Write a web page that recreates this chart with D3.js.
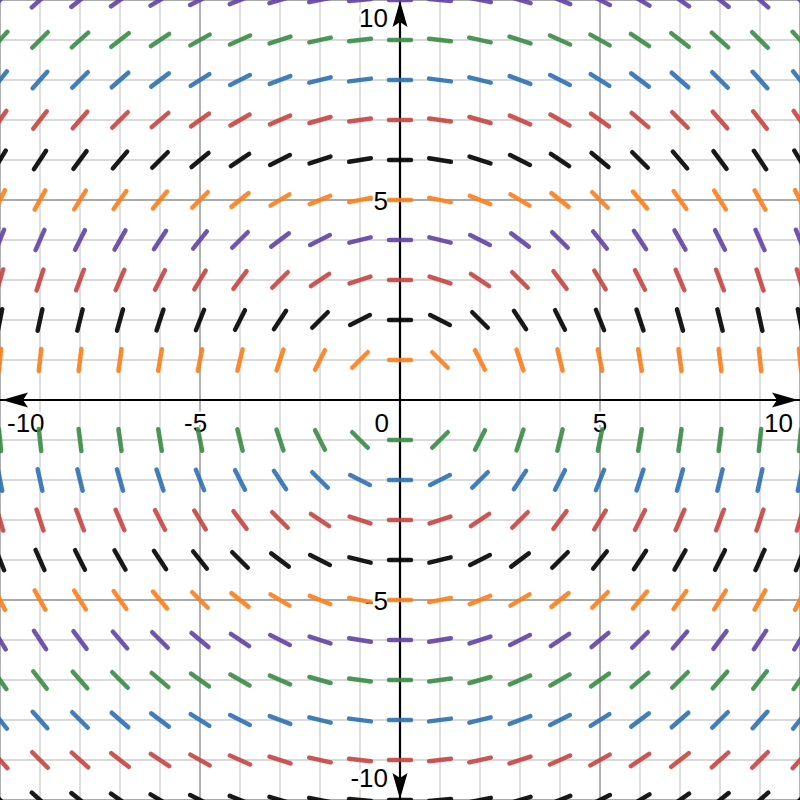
<!DOCTYPE html>
<html>
<head>
<meta charset="utf-8">
<script src="https://cdn.jsdelivr.net/npm/d3@7"></script>
<style>
  html, body { margin: 0; padding: 0; background: #fff; }
  svg { display: block; }
</style>
</head>
<body>
<svg id="chart" width="800" height="800"></svg>
<script>
// ---- data ----
const xDomain = [-10, 10];
const yDomain = [-10, 10];
// grid points where slope marks are drawn (x columns)
const xPoints = [-10, -9, -8, -7, -6, -5, -4, -3, -2, -1, 0, 1, 2, 3, 4, 5, 6, 7, 8, 9, 10];
// rows (y values) and the colour of each row
const yRows = [10, 9, 8, 7, 6, 5, 4, 3, 2, 1, -1, -2, -3, -4, -5, -6, -7, -8, -9, -10];
const rowColors = ["purple", "green", "blue", "red", "black", "orange", "purple", "red", "black", "orange",
                   "green", "blue", "red", "black", "orange", "purple", "green", "blue", "red", "black"];
const xTickLabels = [-10, -5, 5, 10];
const yTickLabels = [10, 5, -5, -10];
const originLabel = "0";
// the field: dy/dx = -x / y
const slope = (x, y) => -x / y;

const palette = {
  red: "#c74440", blue: "#2d70b3", green: "#388c46",
  purple: "#6042a6", orange: "#fa7e19", black: "#000000"
};

// ---- drawing ----
const W = 800, H = 800;
const svg = d3.select("#chart");
const x = d3.scaleLinear().domain(xDomain).range([0, W]);
const y = d3.scaleLinear().domain(yDomain).range([H, 0]);

// minor grid
const minorX = x.ticks(20), minorY = y.ticks(20);
const majorX = x.ticks(4), majorY = y.ticks(4);
const grid = svg.append("g");
grid.selectAll("line.vx").data(minorX).join("line")
  .attr("x1", d => x(d)).attr("x2", d => x(d)).attr("y1", 0).attr("y2", H)
  .attr("stroke", "#cccccc").attr("stroke-width", 1.3);
grid.selectAll("line.hy").data(minorY).join("line")
  .attr("y1", d => y(d)).attr("y2", d => y(d)).attr("x1", 0).attr("x2", W)
  .attr("stroke", "#cccccc").attr("stroke-width", 1.3);
grid.selectAll("line.mvx").data(majorX).join("line")
  .attr("x1", d => x(d)).attr("x2", d => x(d)).attr("y1", 0).attr("y2", H)
  .attr("stroke", "#9a9a9a").attr("stroke-width", 1.3);
grid.selectAll("line.mhy").data(majorY).join("line")
  .attr("y1", d => y(d)).attr("y2", d => y(d)).attr("x1", 0).attr("x2", W)
  .attr("stroke", "#9a9a9a").attr("stroke-width", 1.3);

// tick labels (with white halo)
const fontSize = 26;
const labels = svg.append("g")
  .attr("font-family", "'Liberation Sans', Arial, sans-serif")
  .attr("font-size", fontSize).attr("fill", "#000")
  .attr("stroke", "#fff").attr("stroke-width", 5).attr("paint-order", "stroke")
  .attr("stroke-linejoin", "round");

const pad = 7;
xTickLabels.forEach(v => {
  const t = labels.append("text").attr("y", y(0) + 32).attr("text-anchor", "end").text(String(v).replace("-", "-"));
  // measure digits to centre them on the tick (minus hangs left)
  const tmp = labels.append("text").text(String(Math.abs(v)));
  const dw = tmp.node().getComputedTextLength(); tmp.remove();
  let xe = x(v) + dw / 2;
  t.attr("x", xe);
  const bb = t.node().getBBox();
  if (bb.x < pad) t.attr("x", xe + (pad - bb.x));
  if (bb.x + bb.width > W - pad) t.attr("x", xe - (bb.x + bb.width - (W - pad)));
});
yTickLabels.forEach(v => {
  let base = y(v) + 10;
  const capH = fontSize * 0.72;
  if (base - capH < 8) base = 8 + capH;
  if (base > H - 13) base = H - 13;
  labels.append("text").attr("x", x(0) - 12).attr("y", base).attr("text-anchor", "end").text(String(v));
});
labels.append("text").attr("x", x(0) - 11).attr("y", y(0) + 32).attr("text-anchor", "end").text(originLabel);

// axes with arrowheads
const axes = svg.append("g");
axes.append("line").attr("x1", 0).attr("x2", W).attr("y1", y(0)).attr("y2", y(0))
  .attr("stroke", "#000").attr("stroke-width", 2.2);
axes.append("line").attr("y1", 0).attr("y2", H).attr("x1", x(0)).attr("x2", x(0))
  .attr("stroke", "#000").attr("stroke-width", 2.2);
function arrow(tx, ty, angle) {
  axes.append("path")
    .attr("d", "M0,0 L26,-7.5 L21,0 L26,7.5 Z")
    .attr("fill", "#000")
    .attr("transform", `translate(${tx},${ty}) rotate(${angle})`);
}
arrow(x(xDomain[0]) + 2, y(0), 0);
arrow(x(xDomain[1]) - 2, y(0), 180);
arrow(x(0), y(yDomain[1]) + 1, 90);
arrow(x(0), y(yDomain[0]) - 1, -90);

// slope segments
const half = 11; // half length in pixels
const segData = [];
yRows.forEach((yy, i) => {
  xPoints.forEach(xx => {
    segData.push({ x: xx, y: yy, m: slope(xx, yy), color: palette[rowColors[i]] });
  });
});
svg.append("g").selectAll("line").data(segData).join("line")
  .each(function(d) {
    // direction in pixel space using the scales
    const dxp = x(d.x + 1) - x(d.x);
    const dyp = y(d.y + d.m) - y(d.y);
    const len = Math.hypot(dxp, dyp);
    const ux = dxp / len * half, uy = dyp / len * half;
    const cx = x(d.x), cy = y(d.y);
    d3.select(this)
      .attr("x1", cx - ux).attr("y1", cy - uy)
      .attr("x2", cx + ux).attr("y2", cy + uy);
  })
  .attr("stroke", d => d.color)
  .attr("stroke-opacity", 0.9)
  .attr("stroke-width", 4.5)
  .attr("stroke-linecap", "round");
</script>
</body>
</html>
